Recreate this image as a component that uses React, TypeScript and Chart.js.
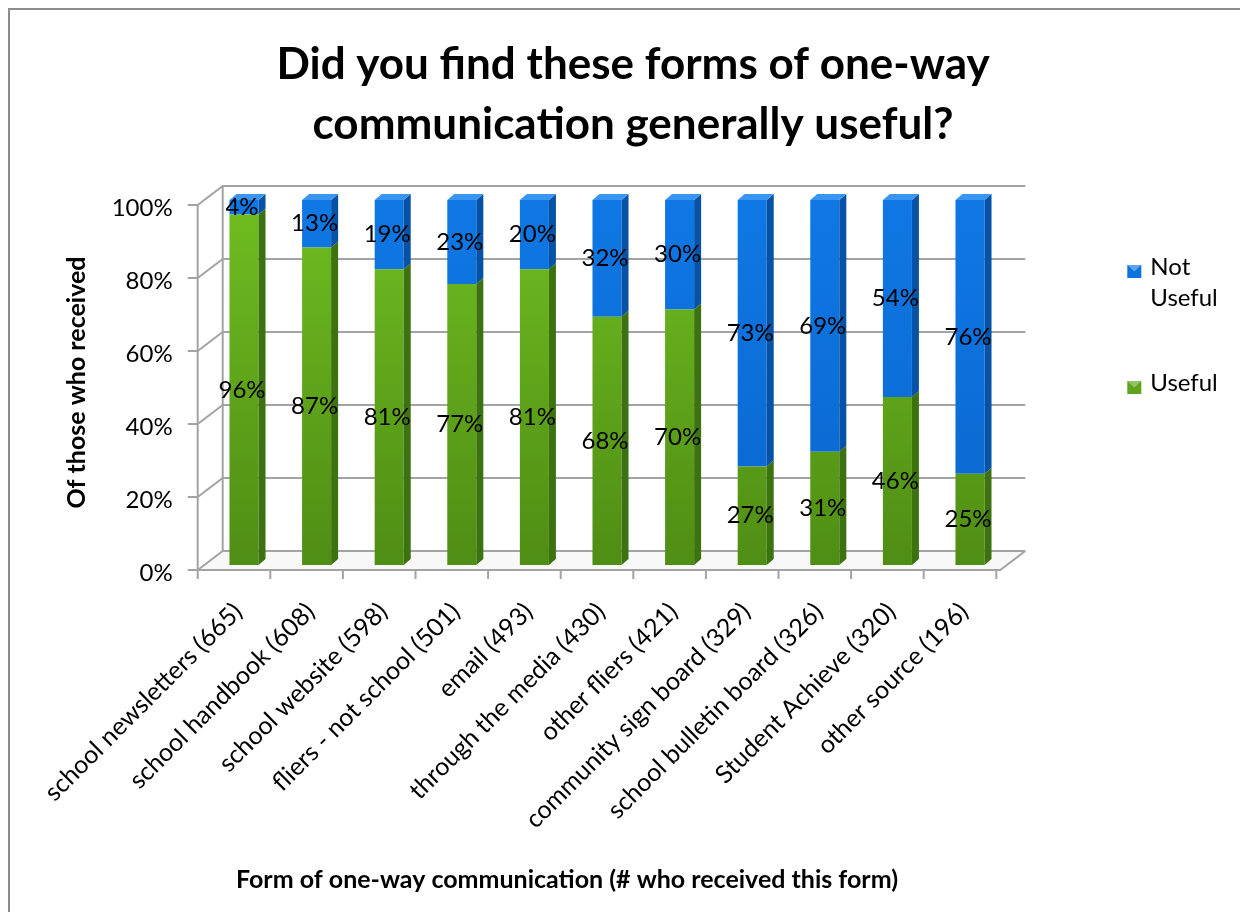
import React, { useEffect, useRef } from 'react';
import { Chart, registerables } from 'chart.js';

Chart.register(...registerables);

// ---------- data ----------
const categories = [
  'school newsletters (665)',
  'school handbook (608)',
  'school website (598)',
  'fliers - not school (501)',
  'email (493)',
  'through the media (430)',
  'other fliers (421)',
  'community sign board (329)',
  'school bulletin board (326)',
  'Student Achieve (320)',
  'other source (196)',
];
const usefulPct = [96, 87, 81, 77, 81, 68, 70, 27, 31, 46, 25];
const notUsefulPct = [4, 13, 19, 23, 20, 32, 30, 73, 69, 54, 76];
const yTickValues = [0, 20, 40, 60, 80, 100];
const titleLines = ['Did you find these forms of one-way', 'communication generally useful?'];
const xAxisTitle = 'Form of one-way communication (# who received this form)';
const yAxisTitle = 'Of those who received';
const seriesNames = ['Useful', 'Not Useful'];

// ---------- styles ----------
const FONT = 'Lato';
const FS = 24;
const GRID = '#a3a3a3';
const DX = 7; // bar depth x
const DY = 6; // bar depth y
const FRONT_X = -10;
const FRONT_Y = 5;
const BACK_X_L = 15;
const BACK_X_R = 19;
const BACK_Y = -14;

const greenFront = (chart: any) => {
  const a = chart.chartArea;
  if (!a) return '#5ea31a';
  const g = chart.ctx.createLinearGradient(0, a.top, 0, a.bottom);
  g.addColorStop(0, '#6fbd21');
  g.addColorStop(1, '#4f8d14');
  return g;
};
const blueFront = (chart: any) => {
  const a = chart.chartArea;
  if (!a) return '#0b72de';
  const g = chart.ctx.createLinearGradient(0, a.top, 0, a.bottom);
  g.addColorStop(0, '#0f78e4');
  g.addColorStop(1, '#0a66cf');
  return g;
};

const sideColors = ['#3d7210', '#0552a6'];
const topColors = ['#7fcf30', '#3a95f2'];
const legendColors = ['#5ea31a', '#0b72de'];

const wallsPlugin = {
  id: 'walls3d',
  beforeDatasetsDraw(chart: any) {
    const { ctx, chartArea: a, scales } = chart;
    const y = scales.y;
    const x = scales.x;
    const fl = a.left + FRONT_X;
    const fr = a.right - 6;
    const bl = a.left + BACK_X_L;
    const br = a.right + BACK_X_R;
    const y0 = y.getPixelForValue(0);
    const y100 = y.getPixelForValue(100);
    ctx.save();
    ctx.strokeStyle = GRID;
    ctx.lineWidth = 2;
    const line = (pts: number[][]) => {
      ctx.beginPath();
      ctx.moveTo(pts[0][0], pts[0][1]);
      for (let i = 1; i < pts.length; i++) ctx.lineTo(pts[i][0], pts[i][1]);
      ctx.stroke();
    };
    // floor
    ctx.fillStyle = '#f8f8f8';
    ctx.beginPath();
    ctx.moveTo(fl, y0 + FRONT_Y);
    ctx.lineTo(bl, y0 + BACK_Y);
    ctx.lineTo(br, y0 + BACK_Y);
    ctx.lineTo(fr, y0 + FRONT_Y);
    ctx.closePath();
    ctx.fill();
    for (const v of yTickValues) {
      const yy = y.getPixelForValue(v);
      line([[fl, yy + FRONT_Y], [bl, yy + BACK_Y], [br, yy + BACK_Y]]);
      line([[fl - 10, yy + FRONT_Y], [fl, yy + FRONT_Y]]);
    }
    line([[fl, y100 + FRONT_Y], [fl, y0 + FRONT_Y]]);
    line([[bl, y100 + BACK_Y], [bl, y0 + BACK_Y]]);
    line([[fl, y0 + FRONT_Y], [fr, y0 + FRONT_Y], [br, y0 + BACK_Y]]);
    const half = (x.getPixelForValue(1) - x.getPixelForValue(0)) / 2;
    for (let i = 0; i <= categories.length; i++) {
      const bx = x.getPixelForValue(0) - half + i * half * 2 + FRONT_X;
      line([[bx, y0 + FRONT_Y], [bx, y0 + FRONT_Y + 9]]);
    }
    ctx.restore();
  },
};

const bars3dPlugin = {
  id: 'bars3d',
  afterDatasetsDraw(chart: any) {
    const { ctx, chartArea: a } = chart;
    const n = chart.data.datasets.length;
    ctx.save();
    for (let di = 0; di < n; di++) {
      const meta = chart.getDatasetMeta(di);
      meta.data.forEach((el: any) => {
        const { x, y, base, width } = el.getProps(['x', 'y', 'base', 'width'], true);
        const top = Math.max(Math.min(y, base), a.top);
        const bot = Math.max(y, base);
        if (bot - top <= 0) return;
        const xl = x - width / 2;
        const xr = x + width / 2;
        ctx.fillStyle = sideColors[di];
        ctx.beginPath();
        ctx.moveTo(xr, top);
        ctx.lineTo(xr + DX, top - DY);
        ctx.lineTo(xr + DX, bot - DY);
        ctx.lineTo(xr, bot);
        ctx.closePath();
        ctx.fill();
        if (di === n - 1) {
          ctx.fillStyle = topColors[di];
          ctx.beginPath();
          ctx.moveTo(xl, top);
          ctx.lineTo(xl + DX, top - DY);
          ctx.lineTo(xr + DX, top - DY);
          ctx.lineTo(xr, top);
          ctx.closePath();
          ctx.fill();
        }
      });
    }
    // data labels
    ctx.fillStyle = '#000';
    ctx.font = `${FS}px ${FONT}`;
    ctx.textAlign = 'center';
    ctx.textBaseline = 'middle';
    for (let di = 0; di < n; di++) {
      const meta = chart.getDatasetMeta(di);
      const values = chart.data.datasets[di].data;
      meta.data.forEach((el: any, i: number) => {
        const { x, y, base } = el.getProps(['x', 'y', 'base'], true);
        const top = Math.max(Math.min(y, base), a.top);
        const bot = Math.max(y, base);
        ctx.fillText(values[i] + '%', x - 2, (top + bot) / 2);
      });
    }
    ctx.restore();
  },
};

const extrasPlugin = {
  id: 'extras',
  afterDraw(chart: any) {
    const { ctx, chartArea: a } = chart;
    ctx.save();
    // x axis title
    ctx.fillStyle = '#000';
    ctx.font = `bold 25px ${FONT}`;
    ctx.textAlign = 'center';
    ctx.textBaseline = 'middle';
    ctx.fillText(xAxisTitle, (a.left + a.right) / 2 - 40, 870);
    // legend (reverse order)
    ctx.font = `${FS}px ${FONT}`;
    ctx.textAlign = 'left';
    const items = [
      { label: chart.data.datasets[1].label, color: legendColors[1], y: 257 },
      { label: chart.data.datasets[0].label, color: legendColors[0], y: 373 },
    ];
    const lx = a.right + 121;
    for (const it of items) {
      let lines = [it.label];
      if (ctx.measureText(it.label).width > 85) lines = it.label.split(' ');
      ctx.fillStyle = it.color;
      ctx.fillRect(lx, it.y - 2, 14, 13);
      ctx.fillStyle = 'rgba(255,255,255,0.35)';
      ctx.beginPath();
      ctx.moveTo(lx, it.y - 2);
      ctx.lineTo(lx + 14, it.y - 2);
      ctx.lineTo(lx + 7, it.y + 4.5);
      ctx.closePath();
      ctx.fill();
      ctx.fillStyle = '#000';
      lines.forEach((ln: string, k: number) => ctx.fillText(ln, lx + 23, it.y + k * 31));
    }
    ctx.restore();
  },
};

export default function App() {
  const ref = useRef<HTMLCanvasElement | null>(null);
  useEffect(() => {
    if (!ref.current) return;
    Chart.defaults.font.family = FONT;
    const chart = new Chart(ref.current, {
      type: 'bar',
      data: {
        labels: categories,
        datasets: [
          {
            label: seriesNames[0],
            data: usefulPct,
            backgroundColor: (c: any) => greenFront(c.chart),
            categoryPercentage: 1,
            barPercentage: 0.4,
            clip: 0,
          },
          {
            label: seriesNames[1],
            data: notUsefulPct,
            backgroundColor: (c: any) => blueFront(c.chart),
            categoryPercentage: 1,
            barPercentage: 0.4,
            clip: 0,
          },
        ],
      },
      options: {
        animation: false,
        responsive: false,
        maintainAspectRatio: false,
        devicePixelRatio: 1,
        layout: { padding: { left: 16, right: 0, top: 0, bottom: 0 } },
        plugins: {
          legend: { display: false },
          tooltip: { enabled: false },
          title: {
            display: true,
            text: titleLines,
            color: '#000',
            font: { family: FONT, size: 44, weight: 'bold', lineHeight: 60 / 44 },
            padding: { top: 25, bottom: 45 },
          },
        },
        scales: {
          x: {
            stacked: true,
            grid: { display: false, drawTicks: false },
            border: { display: false },
            ticks: {
              autoSkip: false,
              minRotation: 45,
              maxRotation: 45,
              color: '#000',
              font: { family: FONT, size: 25 },
              padding: 32,
              labelOffset: -6,
            },
            afterFit: (s: any) => {
              s.height = 347;
            },
          },
          y: {
            stacked: true,
            min: 0,
            max: 100,
            grid: { display: false, drawTicks: false },
            border: { display: false },
            ticks: {
              stepSize: 20,
              callback: (v: any) => v + '%',
              color: '#000',
              font: { family: FONT, size: FS },
              padding: 35,
              labelOffset: 8,
            },
            title: {
              display: true,
              text: yAxisTitle,
              color: '#000',
              font: { family: FONT, size: 25, weight: 'bold', lineHeight: 1.2 },
              padding: { top: 36, bottom: 0 },
            },
            afterFit: (s: any) => {
              s.width = 181.7;
            },
          },
          y2: {
            type: 'linear',
            position: 'right',
            display: true,
            grid: { display: false, drawTicks: false },
            border: { display: false },
            ticks: { display: false },
            afterFit: (s: any) => {
              s.width = 233.7;
            },
          },
        },
      },
      plugins: [wallsPlugin, bars3dPlugin, extrasPlugin],
    } as any);
    return () => chart.destroy();
  }, []);
  return (
    <div
      style={{
        width: 1230,
        height: 902,
        borderTop: '2px solid #8c8c8c',
        borderLeft: '2px solid #8c8c8c',
        background: '#fff',
      }}
    >
      <canvas ref={ref} width={1230} height={902} style={{ display: 'block' }} />
    </div>
  );
}
